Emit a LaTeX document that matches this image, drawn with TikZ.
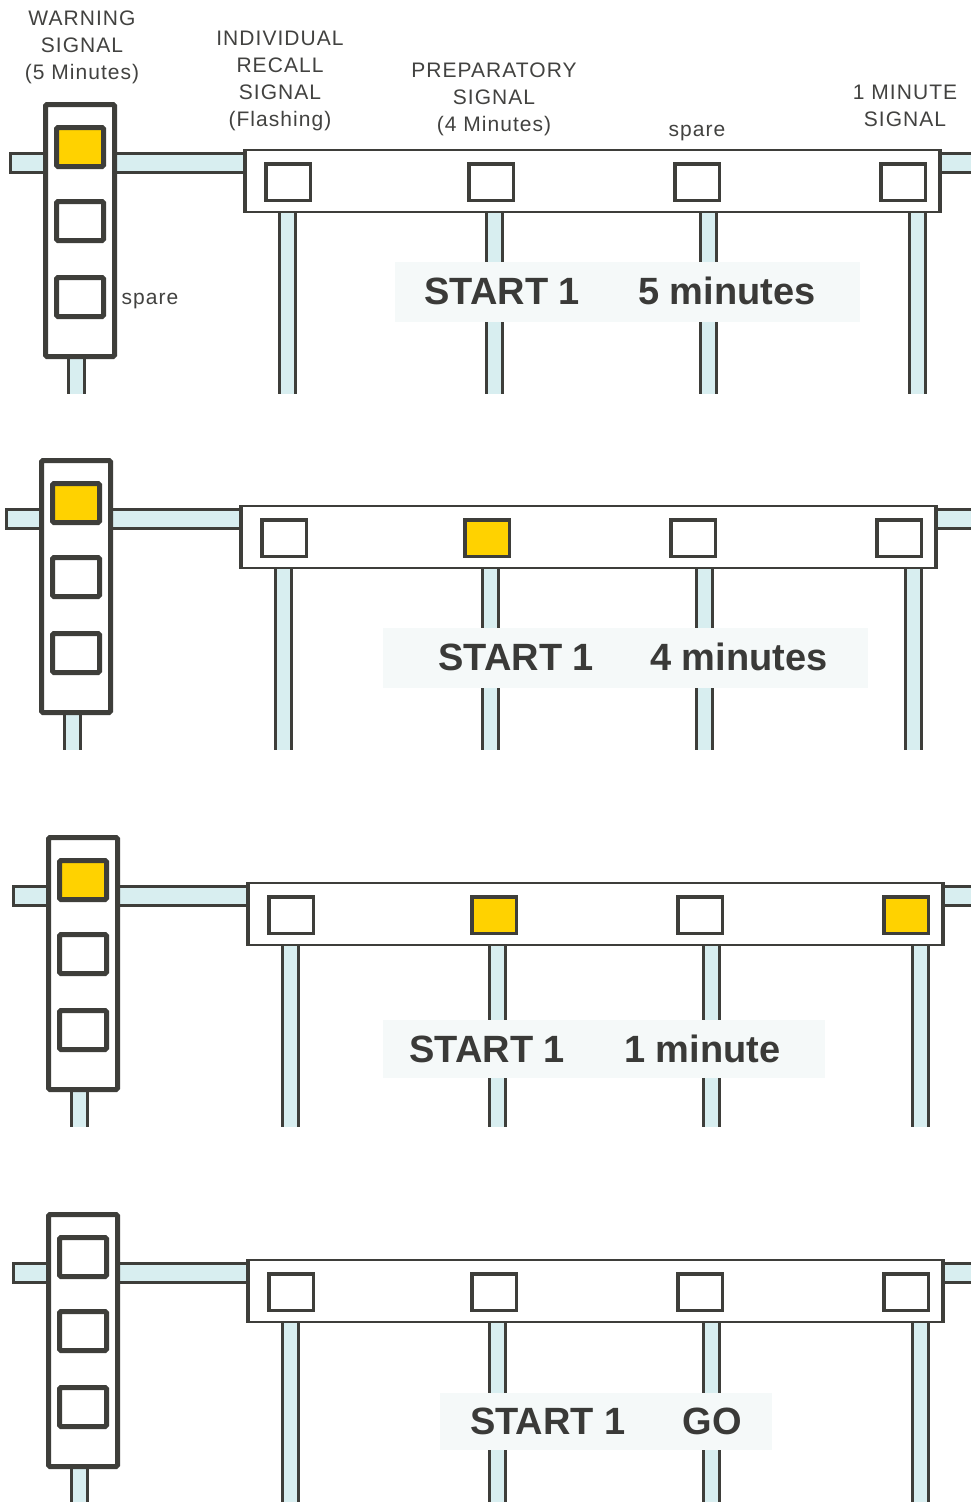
\documentclass[tikz,border=0pt]{standalone}
\usepackage{fontspec}
\setmainfont{Liberation Sans}
\newfontfamily\labelfont[LetterSpace=5]{Liberation Sans}
\usetikzlibrary{positioning}
\definecolor{frame}{RGB}{62,62,58}
\definecolor{poleblue}{RGB}{216,238,240}
\definecolor{lampyellow}{RGB}{255,210,0}
\definecolor{bandgray}{RGB}{245,249,249}
\definecolor{labeltext}{RGB}{66,66,64}
\definecolor{bigtext}{RGB}{58,58,56}
\tikzset{%
  % Specifications for style of the signal rig:
        rimline/.style = {draw=frame, line width=3pt},
          tower/.style = {draw=frame, line width=5pt, fill=white, rounded corners=1.5pt},
        gantry/.style = {draw=frame, line width=2.5pt, fill=white},
           lamp/.style = {rectangle, draw=frame, line width=5pt, rounded corners=1.5pt,
                          minimum width=47pt, minimum height=39pt, inner sep=0pt},
          glamp/.style = {rectangle, draw=frame, line width=3.5pt,
                          minimum width=44.5pt, minimum height=36.5pt, inner sep=0pt},
           band/.style = {rectangle, fill=bandgray, inner sep=0pt},
      starttext/.style = {font=\fontsize{38}{40}\selectfont\bfseries, text=bigtext, inner sep=0pt},
        sigtext/.style = {align=center, font=\labelfont\fontsize{21}{27}\selectfont, text=labeltext}
}
% one pole: x, top
\newcommand{\pole}[2]{%
  \fill[poleblue] (#1-8,#2) rectangle (#1+8,394);
  \draw[rimline] (#1-8,#2) -- (#1-8,394) (#1+8,#2) -- (#1+8,394);}
% one rig: name, tower lamp fill, gantry lamp fills
\newcommand{\signalrig}[6]{%
  \pole{76}{357}
  \pole{287}{212}
  \pole{494}{212}
  \pole{708}{212}
  \pole{917}{212}
  \fill[poleblue] (10,153) rectangle (980,172);
  \draw[rimline] (980,153) -- (10,153) -- (10,172) -- (980,172);
  \draw[tower] (45.5,104.5) rectangle (114.5,356.5);
  \node (#1w1) [lamp, fill=#2] at (80,147) {};
  \node (#1w2) [lamp, fill=white] at (80,221) {};
  \node (#1w3) [lamp, fill=white] at (80,297) {};
  \draw[gantry] (245,150) rectangle (940,212);
  \draw[draw=frame, line width=4pt] (245,149) -- (245,213) (940,149) -- (940,213);
  \node (#1g1) [glamp, fill=#3] at (288,182) {};
  \node (#1g2) [glamp, fill=#4] at (491,182) {};
  \node (#1g3) [glamp, fill=#5] at (697,182) {};
  \node (#1g4) [glamp, fill=#6] at (903,182) {};
}
\begin{document}
\begin{tikzpicture}[x=1pt, y=-1pt]
  \useasboundingbox[fill=white] (0,0) rectangle (971,1502);

  % The four rigs
  \begin{scope}[shift={(0,0)}]
    \signalrig{a}{lampyellow}{white}{white}{white}{white}
  \end{scope}
  \begin{scope}[shift={(-4,356)}]
    \signalrig{b}{lampyellow}{white}{lampyellow}{white}{white}
  \end{scope}
  \begin{scope}[shift={(3,733)}]
    \signalrig{c}{lampyellow}{white}{lampyellow}{white}{lampyellow}
  \end{scope}
  \begin{scope}[shift={(3,1110)}]
    \signalrig{d}{white}{white}{white}{white}{white}
  \end{scope}

  % Bands with the start messages
  \node (band1) [band, minimum width=465pt, minimum height=60pt] at (627,292) {};
  \node (msg1) [starttext] at (620,291) {START 1\hspace{58pt}5 minutes};
  \node (band2) [band, minimum width=485pt, minimum height=60pt] at (625,658) {};
  \node (msg2) [starttext] at (633,657) {START 1\hspace{56pt}4 minutes};
  \node (band3) [band, minimum width=442pt, minimum height=58pt] at (604,1049) {};
  \node (msg3) [starttext] at (595,1049) {START 1\hspace{59pt}1 minute};
  \node (band4) [band, minimum width=332pt, minimum height=57pt] at (606,1421) {};
  \node (msg4) [starttext] at (606,1421) {START 1\hspace{57pt}GO};

  % Signal names above the first rig
  \node (warning) [sigtext] at (82,47) {WARNING\\SIGNAL\\(5 Minutes)};
  \node (recall) [sigtext] at (280,81) {INDIVIDUAL\\RECALL\\SIGNAL\\(Flashing)};
  \node (prep) [sigtext] at (494,99) {PREPARATORY\\SIGNAL\\(4 Minutes)};
  \node (spare) [sigtext] at (697,133) {spare};
  \node (minute) [sigtext] at (905,106) {1 MINUTE\\SIGNAL};
  \node (towerspare) [sigtext, right=12pt of aw3, yshift=-4pt] {spare};
\end{tikzpicture}
\end{document}
